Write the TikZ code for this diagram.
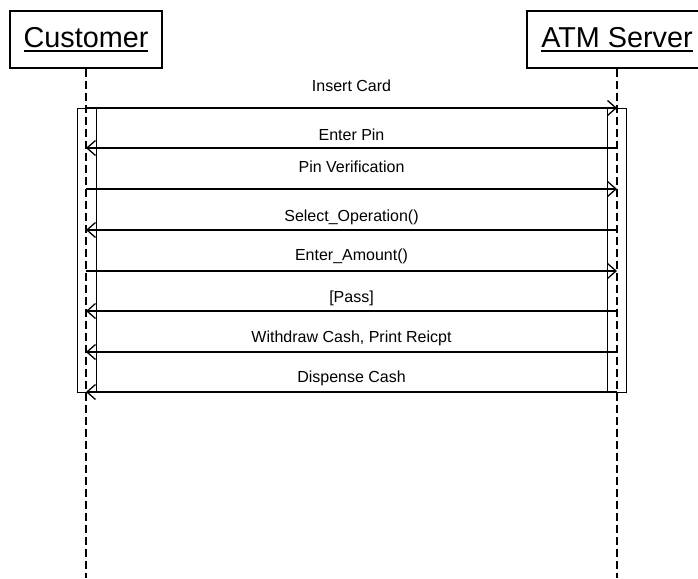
\documentclass[tikz,border=0pt]{standalone}
\usepackage{fontspec}
\setmainfont{Liberation Sans}
\usetikzlibrary{arrows.meta}

% thick underline for the participant names
\newcommand\headname[1]{\setbox0\hbox{#1}\rlap{\rule[-5pt]{\wd0}{2.2pt}}\box0}

\tikzset{
  header/.style={draw, line width=1.6pt, minimum height=57pt, inner sep=0pt,
    font=\fontsize{28.8}{30}\selectfont},
  lifeline/.style={line width=2pt, dash pattern=on 8pt off 4pt},
  actbox/.style={draw, line width=1pt, minimum width=19pt, minimum height=284pt, inner sep=0pt},
  msg/.style={line width=1.5pt, -{Straight Barb[length=8.5pt, width=15pt, line width=1.3pt]}},
  msglabel/.style={anchor=base, inner sep=0pt, font=\fontsize{16}{18}\selectfont}
}

\begin{document}
\begin{tikzpicture}[x=1pt, y=-1pt]
  \clip (0,0) rectangle (698,578);
  \fill[white] (0,0) rectangle (698,578);

  % participants
  \node[header, minimum width=152pt] (cust) at (86,39.5) {\headname{Customer}};
  \node[header, minimum width=180pt] (atm) at (617,39.5) {\headname{ATM Server}};

  % activation bars
  \node[actbox] (actL) at (86.5,250) {};
  \node[actbox] (actR) at (616.5,250) {};

  % lifelines
  \coordinate (bottom) at (0,578);
  \draw[lifeline] (cust.south) -- (cust |- bottom);
  \draw[lifeline] (atm.south) -- (atm |- bottom);

  % message levels
  \coordinate (m1) at (0,108);
  \coordinate (m2) at (0,148);
  \coordinate (m3) at (0,189);
  \coordinate (m4) at (0,230);
  \coordinate (m5) at (0,271);
  \coordinate (m6) at (0,311);
  \coordinate (m7) at (0,352);
  \coordinate (m8) at (0,392);

  \draw[msg] (cust |- m1) -- (atm |- m1);
  \draw[msg] (atm |- m2) -- (cust |- m2);
  \draw[msg] (cust |- m3) -- (atm |- m3);
  \draw[msg] (atm |- m4) -- (cust |- m4);
  \draw[msg] (cust |- m5) -- (atm |- m5);
  \draw[msg] (atm |- m6) -- (cust |- m6);
  \draw[msg] (atm |- m7) -- (cust |- m7);
  \draw[line width=1.5pt] (actL.south west) -- (actR.south east);
  \draw[msg] (atm |- m8) -- (cust |- m8);

  % message labels
  \node[msglabel] (t1) at (351.5,91) {Insert Card};
  \node[msglabel] (t2) at (351.5,140) {Enter Pin};
  \node[msglabel] (t3) at (351.5,172) {Pin Verification};
  \node[msglabel] (t4) at (351.5,221) {Select\_Operation()};
  \node[msglabel] (t5) at (351.5,260) {Enter\_Amount()};
  \node[msglabel] (t6) at (351.5,302) {[Pass]};
  \node[msglabel] (t7) at (351.5,342) {Withdraw Cash, Print Reicpt};
  \node[msglabel] (t8) at (351.5,382) {Dispense Cash};
\end{tikzpicture}
\end{document}
